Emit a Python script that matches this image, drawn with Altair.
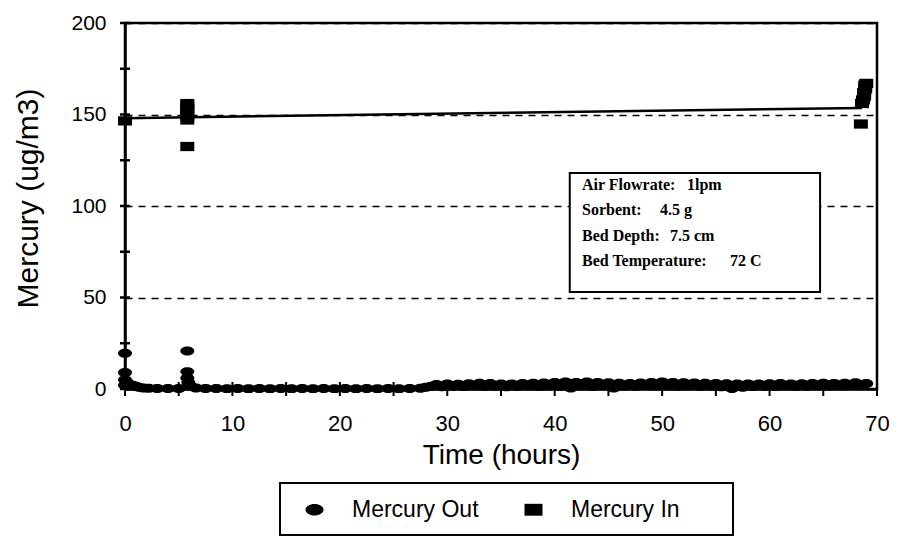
import altair as alt
import pandas as pd

# ---------------- data ----------------
# Mercury Out (time in hours, concentration in ug/m3)
out_t = [0, 0, 0, 0, 0.2, 0.4, 0.7, 1.0, 1.3, 1.7, 2.2, 3, 4, 5,
         5.8, 5.8, 5.8, 5.9, 6.1, 6.6, 7.5, 8.5, 9.5, 10.5, 11.5, 12.5, 13.5,
         14.5, 15.5, 16.5, 17.5, 18.5, 19.5, 20.5, 21.5, 22.5, 23.5, 24.5,
         25.5, 26.5, 27.5,
         28, 28.5, 29, 29.5, 30, 30.5, 31, 31.5, 32, 32.5, 33, 33.5, 34, 34.5,
         35, 35.5, 36, 36.5, 37, 37.5, 38, 38.5, 39, 39.5, 40, 40.5, 41, 41.5,
         42, 42.5, 43, 43.5, 44, 44.5, 45, 45.5, 46, 46.5, 47, 47.5, 48, 48.5,
         49, 49.5, 50, 50.5, 51, 51.5, 52, 52.5, 53, 53.5, 54, 54.5, 55, 55.5,
         56, 56.5, 57, 57.5, 58, 58.5, 59, 59.5, 60, 60.5, 61, 61.5, 62, 62.5,
         63, 63.5, 64, 64.5, 65, 65.5, 66, 66.5, 67, 67.5, 68, 68.5, 69]
out_v = [19.5, 9.0, 5.0, 2.0, 3.5, 2.5, 2.0, 1.5, 1.0, 0.6, 0.4, 0.3, 0.3, 0.3,
         20.8, 9.5, 6.0, 3.5, 1.5, 0.5, 0.3, 0.3, 0.2, 0.3, 0.2, 0.3, 0.2,
         0.3, 0.2, 0.3, 0.2, 0.3, 0.2, 0.3, 0.2, 0.3, 0.2, 0.3,
         0.2, 0.3, 0.4,
         1.0, 1.5, 2.5, 1.2, 2.8, 1.5, 2.6, 1.3, 2.9, 1.6, 3.2, 1.4, 3.0, 1.5,
         2.7, 1.2, 2.8, 1.4, 3.0, 1.6, 3.1, 1.3, 3.3, 1.8, 3.6, 1.5, 3.8, 0.6,
         3.5, 1.7, 3.9, 1.4, 3.6, 1.8, 3.4, 0.5, 3.2, 1.6, 3.0, 1.5, 3.3, 1.9,
         3.5, 1.6, 3.8, 1.7, 3.6, 1.5, 3.4, 1.8, 3.3, 1.4, 3.1, 1.6, 3.0, 1.2,
         2.9, 0.3, 2.8, 1.0, 2.7, 1.4, 2.8, 1.5, 2.9, 1.3, 3.0, 1.6, 2.8, 1.4,
         2.9, 1.5, 3.0, 1.7, 3.1, 1.6, 3.0, 1.8, 3.2, 2.0, 3.4, 2.5, 3.0]

# Mercury In
in_t = [0.0, 5.8, 5.8, 5.8, 5.8, 5.8, 5.8, 5.8,
        68.5, 68.6, 68.7, 68.8, 68.8, 68.9, 68.9, 69.0]
in_v = [146.5, 147.0, 149.0, 151.0, 153.0, 155.0, 156.0, 132.5,
        144.8, 156.0, 158.0, 160.0, 162.0, 164.0, 166.0, 167.0]

# straight line through the inlet values
fit_t = [0.0, 68.6]
fit_v = [148.0, 153.6]

x_label_values = [0, 10, 20, 30, 40, 50, 60, 70]
y_label_values = [0, 50, 100, 150, 200]
x_tick_values = [0, 5, 10, 15, 20, 25, 30, 35, 40, 45, 50, 55, 60, 65, 70]
y_tick_values = [0, 25, 50, 75, 100, 125, 150, 175, 200]

series_names = ["Mercury Out", "Mercury In"]

info_labels = ["Air Flowrate:", "Sorbent:", "Bed Depth:", "Bed Temperature:"]
info_values = ["1lpm", "4.5 g", "7.5 cm", "72 C"]

# annotation box corners (data units)
box_x = [41.4, 64.7]
box_y = [53.0, 118.0]

# ---------------- layout constants (pixels) ----------------
W, H = 752, 366
info_label_x = 457
info_value_x = [562, 535, 545, 605]
info_line_y = [167, 192, 218, 243]

ELLIPSE = "M-1,0A1,0.64,0,1,0,1,0A1,0.64,0,1,0,-1,0Z"
RECT = "M-1,-0.66L1,-0.66L1,0.66L-1,0.66Z"

FONT = "Liberation Sans"
SERIF = "Liberation Serif"

# ---------------- tables ----------------
pts = pd.DataFrame({
    "t": out_t + in_t,
    "v": out_v + in_v,
    "series": [series_names[0]] * len(out_t) + [series_names[1]] * len(in_t),
})
fit = pd.DataFrame({"t": fit_t, "v": fit_v})
xt = pd.DataFrame({"t": x_tick_values})
yt = pd.DataFrame({"v": y_tick_values})
box = pd.DataFrame({"x1": [box_x[0]], "x2": [box_x[1]], "y1": [box_y[0]], "y2": [box_y[1]]})
one = pd.DataFrame({"k": [0]})

xscale = alt.Scale(domain=[0, 70], nice=False)
yscale = alt.Scale(domain=[0, 200], nice=False)

x_axis = alt.Axis(values=x_label_values, grid=False, ticks=False, tickSize=0,
                  domainColor="black", domainWidth=2.5, labelFlush=False,
                  labelBaseline="alphabetic", labelPadding=41, labelFontSize=22,
                  labelColor="black", labelFont=FONT,
                  title="Time (hours)", titleFontSize=28, titleFontWeight="normal",
                  titleFont=FONT, titleColor="black", titleBaseline="alphabetic",
                  titleY=74)
y_axis = alt.Axis(values=y_label_values, grid=True, gridDash=[7, 6], gridColor="black",
                  gridWidth=1.3, gridOpacity=1, ticks=False, tickSize=0,
                  domainColor="black", domainWidth=2.5, labelFlush=False,
                  labelPadding=19, labelFontSize=21, labelColor="black", labelFont=FONT,
                  title="Mercury (ug/m3)", titleFontSize=30, titleFontWeight="normal",
                  titleFont=FONT, titleColor="black", titleAngle=270,
                  titleBaseline="alphabetic", titleAlign="center", titleX=-88, titleY=175)

# axes carried by the box layer (first layer)
box_layer = alt.Chart(box).mark_rect(fill="white", stroke="black", strokeWidth=2).encode(
    x=alt.X("x1:Q", scale=xscale, axis=x_axis),
    x2="x2:Q",
    y=alt.Y("y1:Q", scale=yscale, axis=y_axis),
    y2="y2:Q",
)

fit_layer = alt.Chart(fit).mark_line(color="black", strokeWidth=2.5).encode(
    x=alt.X("t:Q", scale=xscale),
    y=alt.Y("v:Q", scale=yscale),
)

points = alt.Chart(pts).mark_point(filled=True, color="black", opacity=1, size=196).encode(
    x=alt.X("t:Q", scale=xscale),
    y=alt.Y("v:Q", scale=yscale),
    shape=alt.Shape("series:N",
                    scale=alt.Scale(domain=series_names, range=[ELLIPSE, RECT]),
                    legend=alt.Legend(title=None, orient="none", legendX=178, legendY=475,
                                      direction="horizontal", labelFontSize=23,
                                      labelFont=FONT, labelColor="black",
                                      symbolSize=324, labelOffset=26, columnPadding=43,
                                      padding=0, symbolFillColor="black",
                                      symbolStrokeWidth=0, symbolOpacity=1)),
)

xticks = alt.Chart(xt).mark_rule(color="black", strokeWidth=2).encode(
    x=alt.X("t:Q", scale=xscale),
    y=alt.value(H - 7), y2=alt.value(H + 7),
)
yticks = alt.Chart(yt).mark_rule(color="black", strokeWidth=2.5).encode(
    y=alt.Y("v:Q", scale=yscale),
    x=alt.value(-5), x2=alt.value(5),
)

legend_box = alt.Chart(one).mark_rect(fill="transparent", stroke="black", strokeWidth=2).encode(
    x=alt.value(155), x2=alt.value(608), y=alt.value(460), y2=alt.value(512),
)

texts = []
for i, lab in enumerate(info_labels):
    texts.append(alt.Chart(one).mark_text(text=lab, align="left", baseline="alphabetic",
                                          font=SERIF, fontSize=16, fontWeight="bold",
                                          color="black").encode(
        x=alt.value(info_label_x), y=alt.value(info_line_y[i])))
    texts.append(alt.Chart(one).mark_text(text=info_values[i], align="left", baseline="alphabetic",
                                          font=SERIF, fontSize=16, fontWeight="bold",
                                          color="black").encode(
        x=alt.value(info_value_x[i]), y=alt.value(info_line_y[i])))

chart = alt.layer(box_layer, fit_layer, points, xticks, yticks, legend_box, *texts).properties(
    width=W, height=H,
    padding={"left": 117, "top": 15, "right": 15, "bottom": 147},
    autosize=alt.AutoSizeParams(type="none"),
    background="white",
).configure(font=FONT).configure_view(stroke="black", strokeWidth=2.5)

chart.save("out.html", embed_options={"renderer": "svg", "actions": False})
